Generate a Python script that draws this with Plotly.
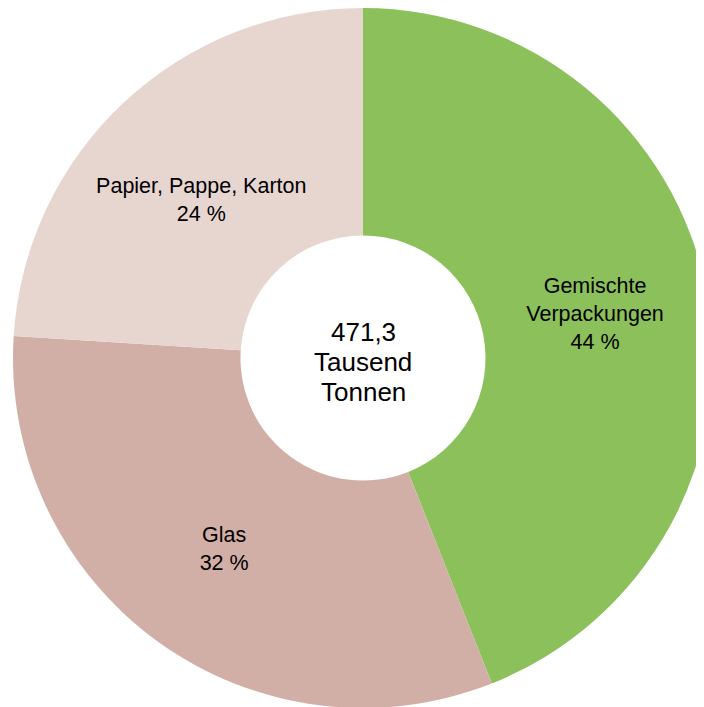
import plotly.graph_objects as go

categories = ["Gemischte Verpackungen", "Glas", "Papier, Pappe, Karton"]
display_names = ["Gemischte<br>Verpackungen", "Glas", "Papier, Pappe, Karton"]
shares = [44, 32, 24]
colors = ["#8CC05A", "#D2AFA6", "#E7D6D0"]
total_lines = ["471,3", "Tausend", "Tonnen"]

# the page body adds an 8px offset; figure is laid out in its own pixel space
W, H = 712, 707
R = 350
cx, cy = 355, 350  # pie centre in figure pixels
dom_x = [(cx - R) / W, (cx + R) / W]
dom_y = [1 - (cy + R) / H, 1 - (cy - R) / H]

FONT = "Arial"
base_tpl = "%{text}<br>%{value} %"
# an empty leading line nudges the last label slightly towards the ring centre
templates = [base_tpl, base_tpl, "&nbsp;<br>" + base_tpl]

fig = go.Figure(
    go.Pie(
        labels=categories,
        values=shares,
        text=display_names,
        texttemplate=templates,
        textposition="inside",
        insidetextorientation="horizontal",
        insidetextfont=dict(family=FONT, size=21.5, color="black"),
        marker=dict(colors=colors, line=dict(width=0)),
        hole=0.35,
        sort=False,
        direction="clockwise",
        rotation=0,
        domain=dict(x=dom_x, y=dom_y),
        hoverinfo="label+percent",
    )
)

# centre text, one line per annotation for a tighter line pitch
for i, line in enumerate(total_lines):
    fig.add_annotation(
        x=cx / W,
        y=1 - cy / H,
        xref="paper",
        yref="paper",
        text=line,
        showarrow=False,
        yanchor="middle",
        yshift=26 - 30 * i,
        font=dict(family=FONT, size=26, color="black"),
    )

fig.update_layout(
    width=W,
    height=H,
    margin=dict(l=0, r=0, t=0, b=0),
    showlegend=False,
    paper_bgcolor="white",
    plot_bgcolor="white",
    uniformtext=dict(minsize=20, mode="show"),
)

fig.write_html("out.html")
